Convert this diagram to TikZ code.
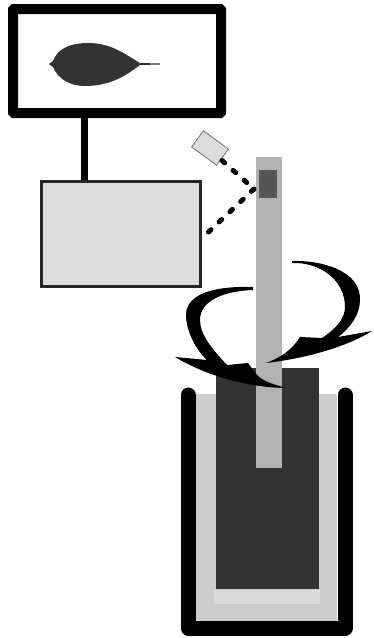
\documentclass[tikz,border=0pt]{standalone}
\usepackage{xcolor}
\usepackage{tikz}
\usetikzlibrary{positioning, calc}
\definecolor{panelgray}{HTML}{DCDCDC}
\definecolor{rodgray}{HTML}{B2B2B2}
\definecolor{sensorgray}{HTML}{555555}
\definecolor{blockgray}{HTML}{333333}
\definecolor{powdergray}{HTML}{CDCDCD}
\definecolor{powderlight}{HTML}{DADADA}
\begin{document}
\begin{tikzpicture}[x=1pt, y=-1pt,
          every node/.style={rectangle, inner sep=0pt, outer sep=0pt},
          screenbox/.style={draw=black, fill=white, line width=10pt, rounded corners=1pt, minimum width=208pt, minimum height=104pt},
          ctrlbox/.style={draw=black!85, fill=panelgray, line width=3pt, minimum width=159pt, minimum height=105pt},
          cambox/.style={draw=black!55, fill=panelgray, line width=0.8pt, minimum width=31pt, minimum height=20pt, rotate=-36},
          rodbox/.style={fill=rodgray, minimum width=25.5pt},
          wire/.style={line width=7pt},
          beam/.style={line width=5pt, line cap=round, dash pattern=on 3.5pt off 11.3pt}]
          \useasboundingbox (0,0) rectangle (374,638);

          % crucible
          \node[fill=powdergray, minimum width=142pt, minimum height=227pt] (powder) at (266,507.5) {};
          \node[fill=powderlight, minimum width=106pt, minimum height=14pt] (powderbase) at (267,597) {};
          \draw[line width=15pt, line cap=round, line join=round] (188,395) -- (188,628) -- (345,628) -- (345,395);
          \node[fill=blockgray, minimum width=103pt, minimum height=221pt] (melt) at (267.5,478.5) {};

          % rod and sensor
          \node[rodbox, minimum height=311pt] (rod) at (268.75,312.5) {};
          \node[fill=sensorgray, minimum width=18pt, minimum height=28pt] (sensor) at (268,184) {};

          % monitor and controller
          \node[screenbox] (screen) at (117,61) {};
          \node[ctrlbox] (ctrl) at (121,233.5) {};
          \node[cambox] (cam) at (210,148) {};
          \coordinate (standtop) at (84,113);
          \coordinate (standbot) at (84,180);
          \draw[wire] (standtop) -- (standbot);

          % light path
          \coordinate (camout) at (222,160.5);
          \coordinate (hit) at (254,189);
          \coordinate (ctrlin) at (208.5,232);
          \draw[beam] (camout) -- (hit);
          \draw[beam] (hit) -- (ctrlin);

          % sample on screen
          \fill[blockgray] (49,64) -- (53,61) .. controls (57,50) and (68,43) .. (88,43)
            .. controls (112,43) and (126,55) .. (140,63) -- (160,63.5) -- (160,64.5) -- (140,65)
            .. controls (128,74) and (112,86) .. (85,86)
            .. controls (70,86) and (58,79) .. (53,67) -- cycle;

          % rotation arrows
          \fill (253,287) .. controls (225,286) and (186,290) .. (186,315)
            .. controls (186,331) and (196,350) .. (207,360)
            -- (175,357) .. controls (200,372) and (240,387) .. (285,388)
            -- (283,387) .. controls (272,384) and (263,381) .. (257,375)
            -- (248,363) -- (227,365)
            .. controls (213,350) and (200,335) .. (200,320)
            .. controls (200,300) and (225,291) .. (253,290) -- cycle;
          \fill (292,261) .. controls (320,260) and (361,270) .. (360,300)
            .. controls (360,315) and (350,328) .. (338,337)
            -- (372,331) .. controls (350,345) and (310,358) .. (266,363)
            .. controls (280,358) and (292,350) .. (300,337)
            -- (322,338)
            .. controls (337,328) and (345,318) .. (345,307)
            .. controls (345,280) and (320,262) .. (292,263) -- cycle;
        \end{tikzpicture}
\end{document}
